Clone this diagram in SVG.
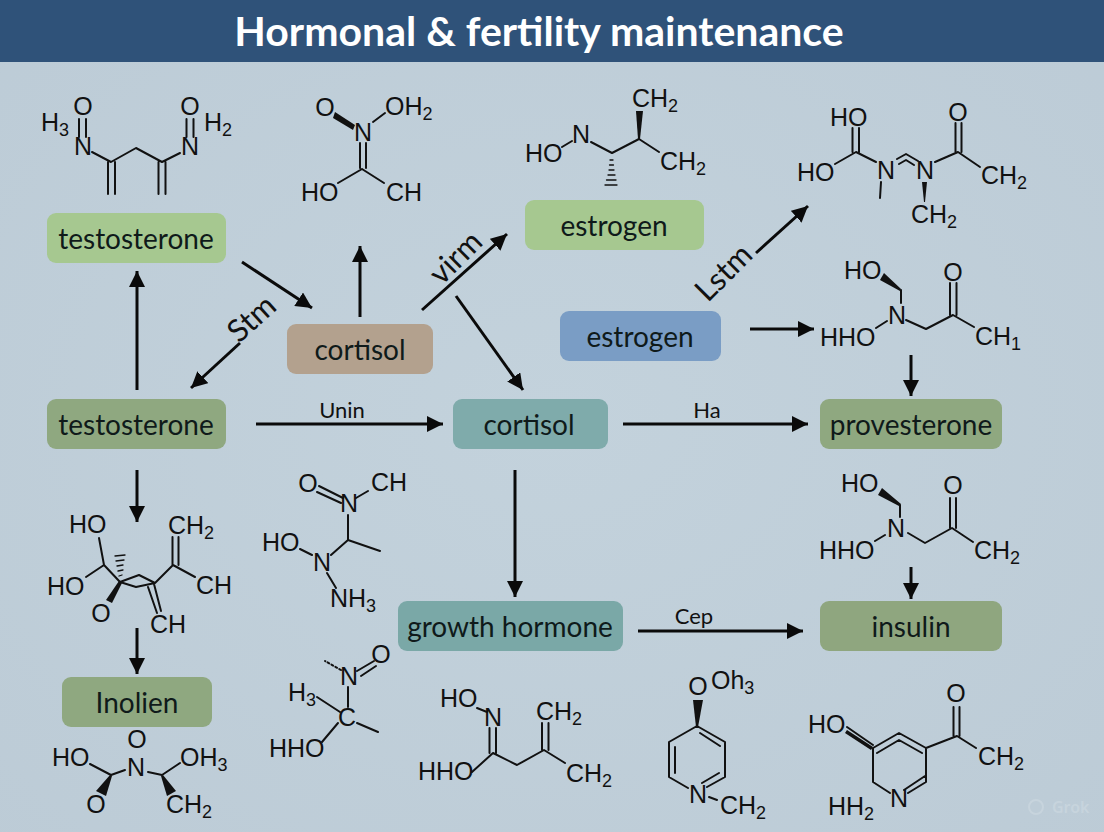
<svg xmlns="http://www.w3.org/2000/svg" width="1104" height="832" viewBox="0 0 1104 832">
<style>
.b{fill:none;stroke:#111;stroke-width:2;stroke-linecap:round;stroke-linejoin:round}
.w{fill:#111;stroke:none}
.c{font-family:"Liberation Sans",Arial,sans-serif;font-size:25px;fill:#111}
.m{text-anchor:middle}
.s{font-size:18px}
.n{font-family:Lato,"Noto Sans",sans-serif;font-size:28px;fill:#0f1a1a;text-anchor:middle}
.l{font-family:Lato,"Noto Sans",sans-serif;fill:#111;text-anchor:middle}
.a{fill:none;stroke:#0a0a0a;stroke-width:3;marker-end:url(#h)}
</style>
<defs>
<marker id="h" markerUnits="userSpaceOnUse" markerWidth="18" markerHeight="16" refX="16" refY="8" orient="auto"><path d="M0 0L16 8L0 16Z" fill="#0a0a0a"/></marker>
<radialGradient id="bg" cx="50%" cy="50%" r="75%"><stop offset="0" stop-color="#c3d2dc"/><stop offset="1" stop-color="#bccbd6"/></radialGradient>
</defs>
<rect width="1104" height="832" fill="url(#bg)"/>
<g id="header"><rect width="1104" height="62" fill="#2f5279"/>
<text x="539" y="46" font-family="Lato,'Noto Sans',sans-serif" font-weight="700" font-size="41" fill="#fff" text-anchor="middle">Hormonal &amp; fertility maintenance</text></g>

<g id="connectors">
<path class="a" d="M137 390V271"/>
<path class="a" d="M242 262L312 308"/>
<path class="a" d="M360 317V246"/>
<path class="a" d="M422 310L507 234"/>
<path class="a" d="M456 296L523 390"/>
<path class="a" d="M240 343L191 388"/>
<path class="a" d="M256 424H443"/>
<path class="a" d="M623 424H808"/>
<path class="a" d="M137 470V522"/>
<path class="a" d="M137 628V674"/>
<path class="a" d="M515 470V597"/>
<path class="a" d="M638 631H803"/>
<path class="a" d="M750 329H814"/>
<path class="a" d="M756 253L808 206"/>
<path class="a" d="M911 355V396"/>
<path class="a" d="M911 567V599"/>
<text class="l" font-size="31" transform="translate(252 319) rotate(-42)" y="10">Stm</text>
<text class="l" font-size="31" transform="translate(456 258) rotate(-45)" y="10">virm</text>
<text class="l" font-size="31" transform="translate(724 273) rotate(-45)" y="10">Lstm</text>
<text class="l" font-size="22" x="342" y="418">Unin</text>
<text class="l" font-size="22" x="707" y="418">Ha</text>
<text class="l" font-size="22" x="694" y="624">Cep</text>
</g>

<g id="node-testosterone-top"><rect x="47" y="213" width="179" height="50" rx="9" fill="#a6c890"/><text class="n" x="136" y="249">testosterone</text></g>
<g id="node-cortisol-tan"><rect x="287" y="324" width="146" height="50" rx="9" fill="#b3a18e"/><text class="n" x="360" y="360">cortisol</text></g>
<g id="node-estrogen-green"><rect x="525" y="200" width="179" height="50" rx="9" fill="#a6c890"/><text class="n" x="614" y="236">estrogen</text></g>
<g id="node-estrogen-blue"><rect x="560" y="311" width="161" height="50" rx="9" fill="#7a9dc5"/><text class="n" x="640" y="347">estrogen</text></g>
<g id="node-testosterone-low"><rect x="47" y="399" width="179" height="50" rx="9" fill="#8fa880"/><text class="n" x="136" y="435">testosterone</text></g>
<g id="node-cortisol-teal"><rect x="453" y="399" width="155" height="50" rx="9" fill="#7fabab"/><text class="n" x="529" y="435">cortisol</text></g>
<g id="node-provesterone"><rect x="820" y="399" width="182" height="50" rx="9" fill="#8fa880"/><text class="n" x="911" y="435">provesterone</text></g>
<g id="node-growth-hormone"><rect x="398" y="601" width="225" height="50" rx="9" fill="#7aa8a7"/><text class="n" x="510" y="637">growth hormone</text></g>
<g id="node-insulin"><rect x="820" y="601" width="182" height="50" rx="9" fill="#8fa67f"/><text class="n" x="911" y="637">insulin</text></g>
<g id="node-inolien"><rect x="62" y="677" width="150" height="50" rx="9" fill="#8fa880"/><text class="n" x="137" y="713">Inolien</text></g>

<g id="mol-1">
<path class="b" d="M92 152L111 162L136 148L162 162L180 153M79 119V137M86 119V137M186.500 119V137M193.500 119V137M108 162V194M115 162V194M158.500 162V194M165.500 162V194"/>
<text class="c" x="41" y="131">H<tspan class="s" dy="5">3</tspan></text>
<text class="c m" x="83" y="115">O</text><text class="c m" x="190" y="115">O</text>
<text class="c" x="204" y="131">H<tspan class="s" dy="5">2</tspan></text>
<text class="c m" x="83" y="155">N</text><text class="c m" x="190" y="155">N</text>
</g>
<g id="mol-2">
<polygon class="w" points="335,112 333,118 353,130 355,125"/>
<path class="b" d="M373 122L385 113M360 143V168M366 143V168M362 169L338 183M362 169L384 183"/>
<text class="c m" x="325" y="116">O</text><text class="c m" x="363" y="141">N</text>
<text class="c" x="385" y="115">OH<tspan class="s" dy="5">2</tspan></text>
<text class="c" x="301" y="201">HO</text><text class="c" x="386" y="201">CH</text>
</g>
<g id="mol-3">
<polygon class="w" points="636,111 643,111 640,139 638,139"/>
<path class="b" d="M562 147L572 141M591 142L612 153L639 139L659 152"/>
<path class="b" style="stroke-width:1.300" d="M610 160H613M609.500 165H613.500M609 170H614M608 175H615M606.500 180H616M605 185H617"/>
<text class="c" x="632" y="107">CH<tspan class="s" dy="5">2</tspan></text>
<text class="c m" x="581" y="143">N</text><text class="c" x="525" y="162">HO</text>
<text class="c" x="660" y="170">CH<tspan class="s" dy="5">2</tspan></text>
</g>
<g id="mol-4">
<polygon class="w" points="922,182 927,182 925,202 924,202"/>
<path class="b" d="M835 164L856 152L876 162M852.500 128V152M859 128V152M881 182L880 198M897 159L906 154L918 161M899 164L906 160L914 165M935 162L958 152L980 167M955.500 123V152M961.500 123V152"/>
<text class="c" x="830" y="126">HO</text><text class="c m" x="958" y="121">O</text>
<text class="c" x="797" y="181">HO</text><text class="c m" x="886" y="179">N</text><text class="c m" x="925" y="179">N</text>
<text class="c" x="981" y="184">CH<tspan class="s" dy="5">2</tspan></text>
<text class="c" x="911" y="223">CH<tspan class="s" dy="5">2</tspan></text>
</g>
<g id="mol-5">
<polygon class="w" points="884,273 880,280 900,291 901,289"/>
<path class="b" d="M901 290V303M876 328L887 321M906 320L926 329L953 315L974 327M950 283V315M956.500 283V315"/>
<text class="c" x="844" y="279">HO</text><text class="c m" x="953" y="281">O</text>
<text class="c m" x="897" y="324">N</text><text class="c" x="820" y="346">HHO</text>
<text class="c" x="975" y="345">CH<tspan class="s" dy="5">1</tspan></text>
</g>
<g id="mol-6">
<polygon class="w" points="119,581 122,583 112,603 106,600"/>
<path class="b" d="M99 538L104 565L120 582M86 577L104 565M120 582L139 575L155 583L136 587L120 582M148 587L157 613M154 584L161 611M155 583L173 565L195 577M172.500 537V565M178.500 537V565"/>
<path class="b" style="stroke-width:1.300" d="M119 576L122 575M118 571L123 570M117 566L123 565M116 561L124 560M115 556L125 555"/>
<text class="c" x="69" y="533">HO</text>
<text class="c" x="168" y="534">CH<tspan class="s" dy="5">2</tspan></text>
<text class="c" x="47" y="595">HO</text><text class="c" x="196" y="594">CH</text>
<text class="c m" x="101" y="622">O</text><text class="c" x="150" y="633">CH</text>
</g>
<g id="mol-7">
<path class="b" d="M319 486L343 498M317 492L341 503M356 498L368 491M348 515V540L380 551M348 540L331 555M300 549L312 555M327 573L336 588"/>
<text class="c m" x="308" y="492">O</text><text class="c" x="371" y="491">CH</text>
<text class="c m" x="349" y="512">N</text><text class="c" x="262" y="551">HO</text>
<text class="c m" x="322" y="571">N</text>
<text class="c" x="330" y="607">NH<tspan class="s" dy="5">3</tspan></text>
</g>
<g id="mol-8">
<path class="b" stroke-dasharray="2 2.500" d="M341 670L325 661"/>
<path class="b" d="M357 671L374 661M361 676L376 666M348 687V707M317 697L340 712M357 723L378 732M338 723L322 742"/>
<text class="c m" x="381" y="663">O</text><text class="c m" x="349" y="685">N</text>
<text class="c" x="288" y="701">H<tspan class="s" dy="5">3</tspan></text>
<text class="c m" x="347" y="726">C</text><text class="c" x="269" y="757">HHO</text>
</g>
<g id="mol-9">
<polygon class="w" points="110,775 112,776 106,796 96,791"/>
<polygon class="w" points="161,776 163,775 176,791 167,796"/>
<path class="b" d="M90 764L111 775L125 770M148 772L162 775L180 763"/>
<text class="c" x="52" y="766">HO</text><text class="c m" x="137" y="748">O</text>
<text class="c" x="180" y="766">OH<tspan class="s" dy="5">3</tspan></text>
<text class="c m" x="136" y="776">N</text><text class="c m" x="96" y="813">O</text>
<text class="c" x="166" y="813">CH<tspan class="s" dy="5">2</tspan></text>
</g>
<g id="mol-10">
<path class="b" d="M477 708L487 712M489.500 728V753M496 728V753M493 753L472 772M493 753L517 765L544 750L565 763M542 723V750M548.500 723V750"/>
<text class="c" x="440" y="707">HO</text><text class="c m" x="493" y="726">N</text>
<text class="c" x="418" y="780">HHO</text>
<text class="c" x="536" y="720">CH<tspan class="s" dy="5">2</tspan></text>
<text class="c" x="566" y="782">CH<tspan class="s" dy="5">2</tspan></text>
</g>
<g id="mol-11">
<polygon class="w" points="693,700 703,700 698,727 696,727"/>
<path class="b" d="M697 726L725 742V777L707 787M688 788L669 777V742L697 726M700 733L720 746M675 747V773M702 783L719 773M709 797L717 800"/>
<text class="c m" x="698" y="695">O</text>
<text class="c" x="711" y="689">Oh<tspan class="s" dy="5">3</tspan></text>
<text class="c m" x="698" y="803">N</text>
<text class="c" x="720" y="814">CH<tspan class="s" dy="5">2</tspan></text>
</g>
<g id="mol-12">
<polygon class="w" points="873,747 871,750 845,733 847,730"/>
<path class="b" d="M847 727L873 745M873 748L899 733L926 748V782L908 793M890 793L873 782V748M877 753L899 740L922 753M904 790L925 776M926 748L957 736L976 748M953.500 707V736M959.500 707V736"/>
<text class="c" x="808" y="733">HO</text><text class="c m" x="956" y="702">O</text>
<text class="c" x="978" y="765">CH<tspan class="s" dy="5">2</tspan></text>
<text class="c m" x="899" y="807">N</text>
<text class="c" x="828" y="815">HH<tspan class="s" dy="5">2</tspan></text>
</g>
<g id="mol-13">
<polygon class="w" points="882,488 878,495 899,506 901,504"/>
<path class="b" d="M900 505V517M875 541L885 535M908 533L925 543L952 528L973 542M950 498V528M956 498V528"/>
<text class="c" x="841" y="492">HO</text><text class="c m" x="953" y="494">O</text>
<text class="c m" x="896" y="537">N</text><text class="c" x="819" y="559">HHO</text>
<text class="c" x="974" y="559">CH<tspan class="s" dy="5">2</tspan></text>
</g>
<g id="watermark" opacity=".35">
<circle cx="1036" cy="807" r="7" fill="none" stroke="#dbe4ea" stroke-width="2"/>
<text x="1052" y="813" font-family="'Noto Sans',sans-serif" font-size="16" font-weight="600" fill="#dbe4ea">Grok</text>
</g>
</svg>
